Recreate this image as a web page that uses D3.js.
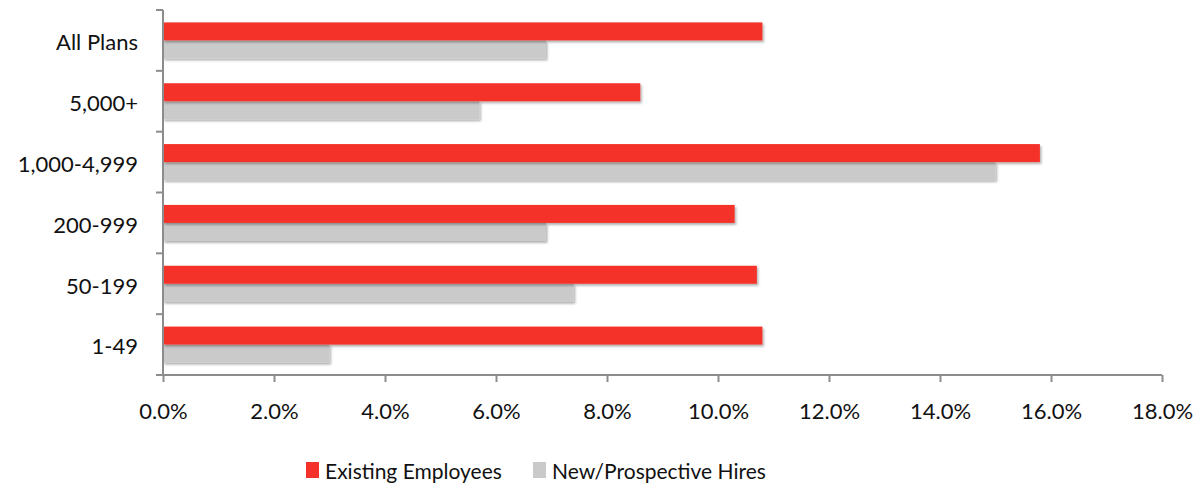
<!DOCTYPE html>
<html>
<head>
<meta charset="utf-8">
<script src="https://cdn.jsdelivr.net/npm/d3@7"></script>
<style>
  body { margin: 0; background: #fff; }
  svg text { font-family: Lato, "Open Sans", sans-serif; fill: #111; }
</style>
</head>
<body>
<svg id="chart" width="1203" height="491"></svg>
<script>
// data
var categories = ["All Plans", "5,000+", "1,000-4,999", "200-999", "50-199", "1-49"];
var existing = [10.8, 8.6, 15.8, 10.3, 10.7, 10.8];
var newHires = [6.9, 5.7, 15.0, 6.9, 7.4, 3.0];
var seriesNames = ["Existing Employees", "New/Prospective Hires"];
var xTicks = [0, 2, 4, 6, 8, 10, 12, 14, 16, 18];

var colors = ["#f4312a", "#cacaca"];
var axisColor = "#8c8c8c";
var plotL = 163, plotR = 1162, plotT = 10, plotB = 375;

var svg = d3.select("#chart");

var defs = svg.append("defs");
var f = defs.append("filter").attr("id", "shadow")
  .attr("x", "-5%").attr("y", "-30%").attr("width", "110%").attr("height", "170%");
f.append("feDropShadow").attr("dx", 1.5).attr("dy", 2).attr("stdDeviation", 1.3)
  .attr("flood-color", "#000").attr("flood-opacity", 0.3);

var x = d3.scaleLinear().domain([0, 18]).range([plotL, plotR]);
var y = d3.scaleBand().domain(categories).range([plotT, plotB]).paddingInner(0).paddingOuter(0);
var barH = 18;

var rows = categories.map(function(c, i) {
  return { cat: c, vals: [existing[i], newHires[i]] };
});

// bars
var g = svg.append("g");
rows.forEach(function(r) {
  var mid = y(r.cat) + y.bandwidth() / 2;
  // gray first then red on top
  [1, 0].forEach(function(s) {
    g.append("rect")
      .attr("x", x(0))
      .attr("y", mid - barH + s * barH)
      .attr("width", x(r.vals[s]) - x(0))
      .attr("height", barH)
      .attr("fill", colors[s])
      .attr("filter", "url(#shadow)");
  });
});

// x axis
var xAxis = svg.append("g")
  .attr("transform", "translate(0," + plotB + ")")
  .call(d3.axisBottom(x).tickValues(xTicks).tickSize(7).tickPadding(21)
    .tickFormat(function(d) { return d.toFixed(1) + "%"; }));
xAxis.select(".domain").attr("stroke", axisColor).attr("stroke-width", 2)
  .attr("d", "M" + plotL + ",0H" + plotR);
xAxis.selectAll(".tick line").attr("stroke", axisColor).attr("stroke-width", 2);
xAxis.selectAll(".tick text").style("font-size", "22px").attr("fill", "#111");

// y axis
var yAxis = svg.append("g")
  .attr("transform", "translate(" + plotL + ",0)")
  .call(d3.axisLeft(y).tickSize(0).tickPadding(25));
yAxis.select(".domain").attr("stroke", axisColor).attr("stroke-width", 2)
  .attr("d", "M0," + plotT + "V" + plotB);
yAxis.selectAll(".tick text").style("font-size", "22px").attr("dy", "0.45em").attr("fill", "#111");
var bounds = categories.map(function(c) { return y(c); }).concat([plotB]);
yAxis.selectAll(".bnd").data(bounds).enter().append("line")
  .attr("x1", -7).attr("x2", 0)
  .attr("y1", function(d) { return d; }).attr("y2", function(d) { return d; })
  .attr("stroke", axisColor).attr("stroke-width", 2);

// legend
var legendX = [306, 533];
var leg = svg.append("g");
seriesNames.forEach(function(name, i) {
  leg.append("rect").attr("x", legendX[i]).attr("y", 462)
    .attr("width", 13).attr("height", 16).attr("fill", colors[i]);
  leg.append("text").attr("x", legendX[i] + 19).attr("y", 479)
    .style("font-size", "21px").text(name);
});
</script>
</body>
</html>
